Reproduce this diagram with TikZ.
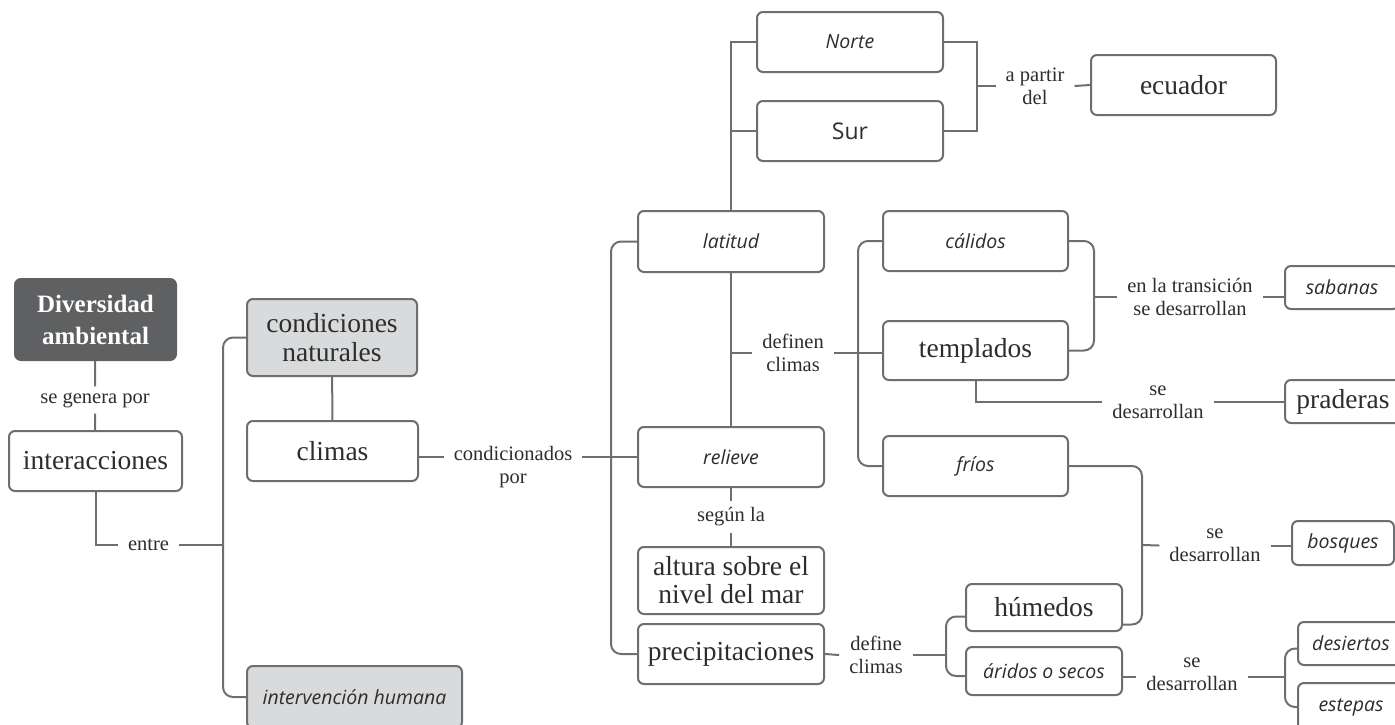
\documentclass[tikz,border=0pt]{standalone}
\usepackage{fontspec}
\setmainfont{Liberation Serif}
\newfontfamily\sansf{Open Sans}

\definecolor{linegray}{HTML}{6D6E71}
\definecolor{ink}{HTML}{2D2D2D}
\definecolor{darkbox}{HTML}{5F6062}
\definecolor{lightbox}{HTML}{D9DADB}

\newcommand\boxfont{\fontsize{27.5}{28}\selectfont}
\newcommand\labfont{\fontsize{20.5}{23}\selectfont}
\newcommand\itfont{\sansf\itshape\fontsize{19.5}{22}\selectfont}
\newcommand\titlefont{\bfseries\fontsize{25}{32}\selectfont}

\begin{document}
\begin{tikzpicture}[x=1pt, y=-1pt,
    box/.style={draw=linegray, line width=2pt, rounded corners=6pt, fill=white,
      text=ink, align=center, inner sep=0pt, font=\boxfont},
    ibox/.style={box, font=\itfont},
    lab/.style={text=ink, align=center, inner xsep=10pt, inner ysep=6pt, font=\labfont},
    link/.style={draw=linegray, line width=2pt},
    fork/.style={link, rounded corners=10pt},
    wh/.style 2 args={minimum width=#1, minimum height=#2}]
    \useasboundingbox (0,0) rectangle (1395,724);
    \clip (0,0) rectangle (1395,724);

    % left part
    \node[box, wh={161}{81}, fill=darkbox, draw=darkbox, text=white, font=\titlefont] (div) at (95.5,319.5) {Diversidad\\ambiental};
    \node[lab] (lgen) at (95,400) {se genera por};
    \node[box, wh={173}{60}] (inter) at (95.5,461) {interacciones};
    \node[lab] (lentre) at (148.5,545) {entre};
    \coordinate (ta) at (223,545);
    \node[box, wh={170}{77}, fill=lightbox, font=\fontsize{27.5}{29}\selectfont] (cond) at (332,337.5) {condiciones\\naturales};
    \node[box, wh={171}{60}] (clim) at (332.5,451) {climas};
    \node[ibox, wh={215}{62}, fill=lightbox] (human) at (354.5,697) {intervención humana};

    \draw[link] (div) -- (lgen) -- (inter);
    \draw[link] (inter.south) |- (lentre.west);
    \draw[link] (lentre.east) -- (ta);
    \draw[fork] (cond.west) -| (ta) |- (human.west);
    \draw[link] (cond) -- (clim);

    % factores
    \node[lab] (lcond) at (513,467) {condicionados\\por};
    \coordinate (tb) at (611,457);
    \node[ibox, wh={186}{61}] (lat) at (731,241.5) {latitud};
    \node[ibox, wh={186}{60}] (rel) at (731,457) {relieve};
    \node[lab] (lseg) at (731,517) {según la};
    \node[box, wh={186}{67}] (alt) at (731,580.5) {altura sobre el\\nivel del mar};
    \node[box, wh={186}{60}] (prec) at (731,654) {precipitaciones};

    \draw[link] ([yshift=-6pt]clim.east) -- ([yshift=10pt]lcond.west);
    \draw[link] ([yshift=10pt]lcond.east) -- (tb);
    \draw[fork] (lat.west) -| (tb) |- (prec.west);
    \draw[link] (tb) -- (rel.west);
    \draw[link] (rel) -- (lseg) -- (alt);

    % hemisferios
    \node[ibox, wh={186}{60}] (norte) at (850,42) {Norte};
    \node[box, wh={186}{60}, font=\sansf\fontsize{23}{26}\selectfont] (sur) at (850,131) {Sur};
    \node[lab] (lpart) at (1035,86) {a partir\\del};
    \coordinate (tc) at (977,86);
    \node[box, wh={185}{60}] (ecu) at (1183.5,85) {ecuador};

    \draw[link] (norte.west) -| (lat.north);
    \draw[link] (sur.west) -- (sur.west -| lat.north);
    \draw[link] (norte.east) -| (tc) |- (sur.east);
    \draw[link] (tc) -- (lpart.west);
    \draw[link] (lpart.east) -- (ecu.west);

    % climas
    \node[lab] (ldef) at (793,353) {definen\\climas};
    \coordinate (td) at (858,353);
    \node[ibox, wh={185}{60}] (cal) at (975.5,241) {cálidos};
    \node[box, wh={185}{59}] (temp) at (975.5,350.5) {templados};
    \node[ibox, wh={185}{60}] (frio) at (975.5,466) {fríos};

    \draw[link] (lat) -- (rel);
    \draw[link] (ldef.west -| lat.south) -- (ldef.west);
    \draw[link] (ldef.east) -- (td);
    \draw[fork] (cal.west) -| (td) |- (frio.west);
    \draw[link] (td) -- (td -| temp.west);

    % precipitaciones
    \node[lab] (ldefc) at (876,655) {define\\climas};
    \coordinate (tg) at (946,655);
    \node[box, wh={156}{47}] (hum) at (1044,607.5) {húmedos};
    \node[ibox, wh={156}{48}] (arid) at (1044,671) {áridos o secos};
    \node[lab] (lsd3) at (1192,674) {se\\desarrollan};
    \coordinate (th) at (1285,677);
    \node[ibox, wh={106}{43}] (desi) at (1351,643.5) {desiertos};
    \node[ibox, wh={106}{48}] (este) at (1351,707) {estepas};

    \draw[link] (prec.east) -- (ldefc.west);
    \draw[link] (ldefc.east) -- (tg);
    \draw[fork] ([yshift=-9pt]hum.west) -| (tg) |- ([yshift=-5pt]arid.west);
    \draw[link] ([yshift=-6pt]arid.east) -- ([yshift=-3pt]lsd3.west);
    \draw[link] ([yshift=-3pt]lsd3.east) -- (th);
    \draw[fork] ([yshift=-5pt]desi.west) -| (th) |- (este.west);

    % vegetacion
    \coordinate (te) at (1094,297);
    \node[lab] (ltran) at (1190,297) {en la transición\\se desarrollan};
    \node[ibox, wh={114}{43}] (sab) at (1342,287.5) {sabanas};
    \node[lab] (lsd1) at (1158,402) {se\\desarrollan};
    \node[box, wh={116}{43}] (prad) at (1343,401.5) {praderas};
    \coordinate (tf) at (1142,545);
    \node[lab] (lsd2) at (1215,545.5) {se\\desarrollan};
    \node[ibox, wh={102}{44}] (bosq) at (1343,543) {bosques};

    \draw[fork] (cal.east) -| (te) |- (temp.east);
    \draw[link] (te) -- (ltran.west);
    \draw[link] (ltran.east) -- (ltran.east -| sab.west);
    \draw[link] (temp.south) |- (lsd1.west);
    \draw[link] (lsd1.east) -- (lsd1.east -| prad.west);
    \draw[fork] (frio.east) -| (tf) |- ([yshift=-17pt]hum.east);
    \draw[link] (tf) -- (lsd2.west);
    \draw[link] (lsd2.east) -- (lsd2.east -| bosq.west);
\end{tikzpicture}
\end{document}
